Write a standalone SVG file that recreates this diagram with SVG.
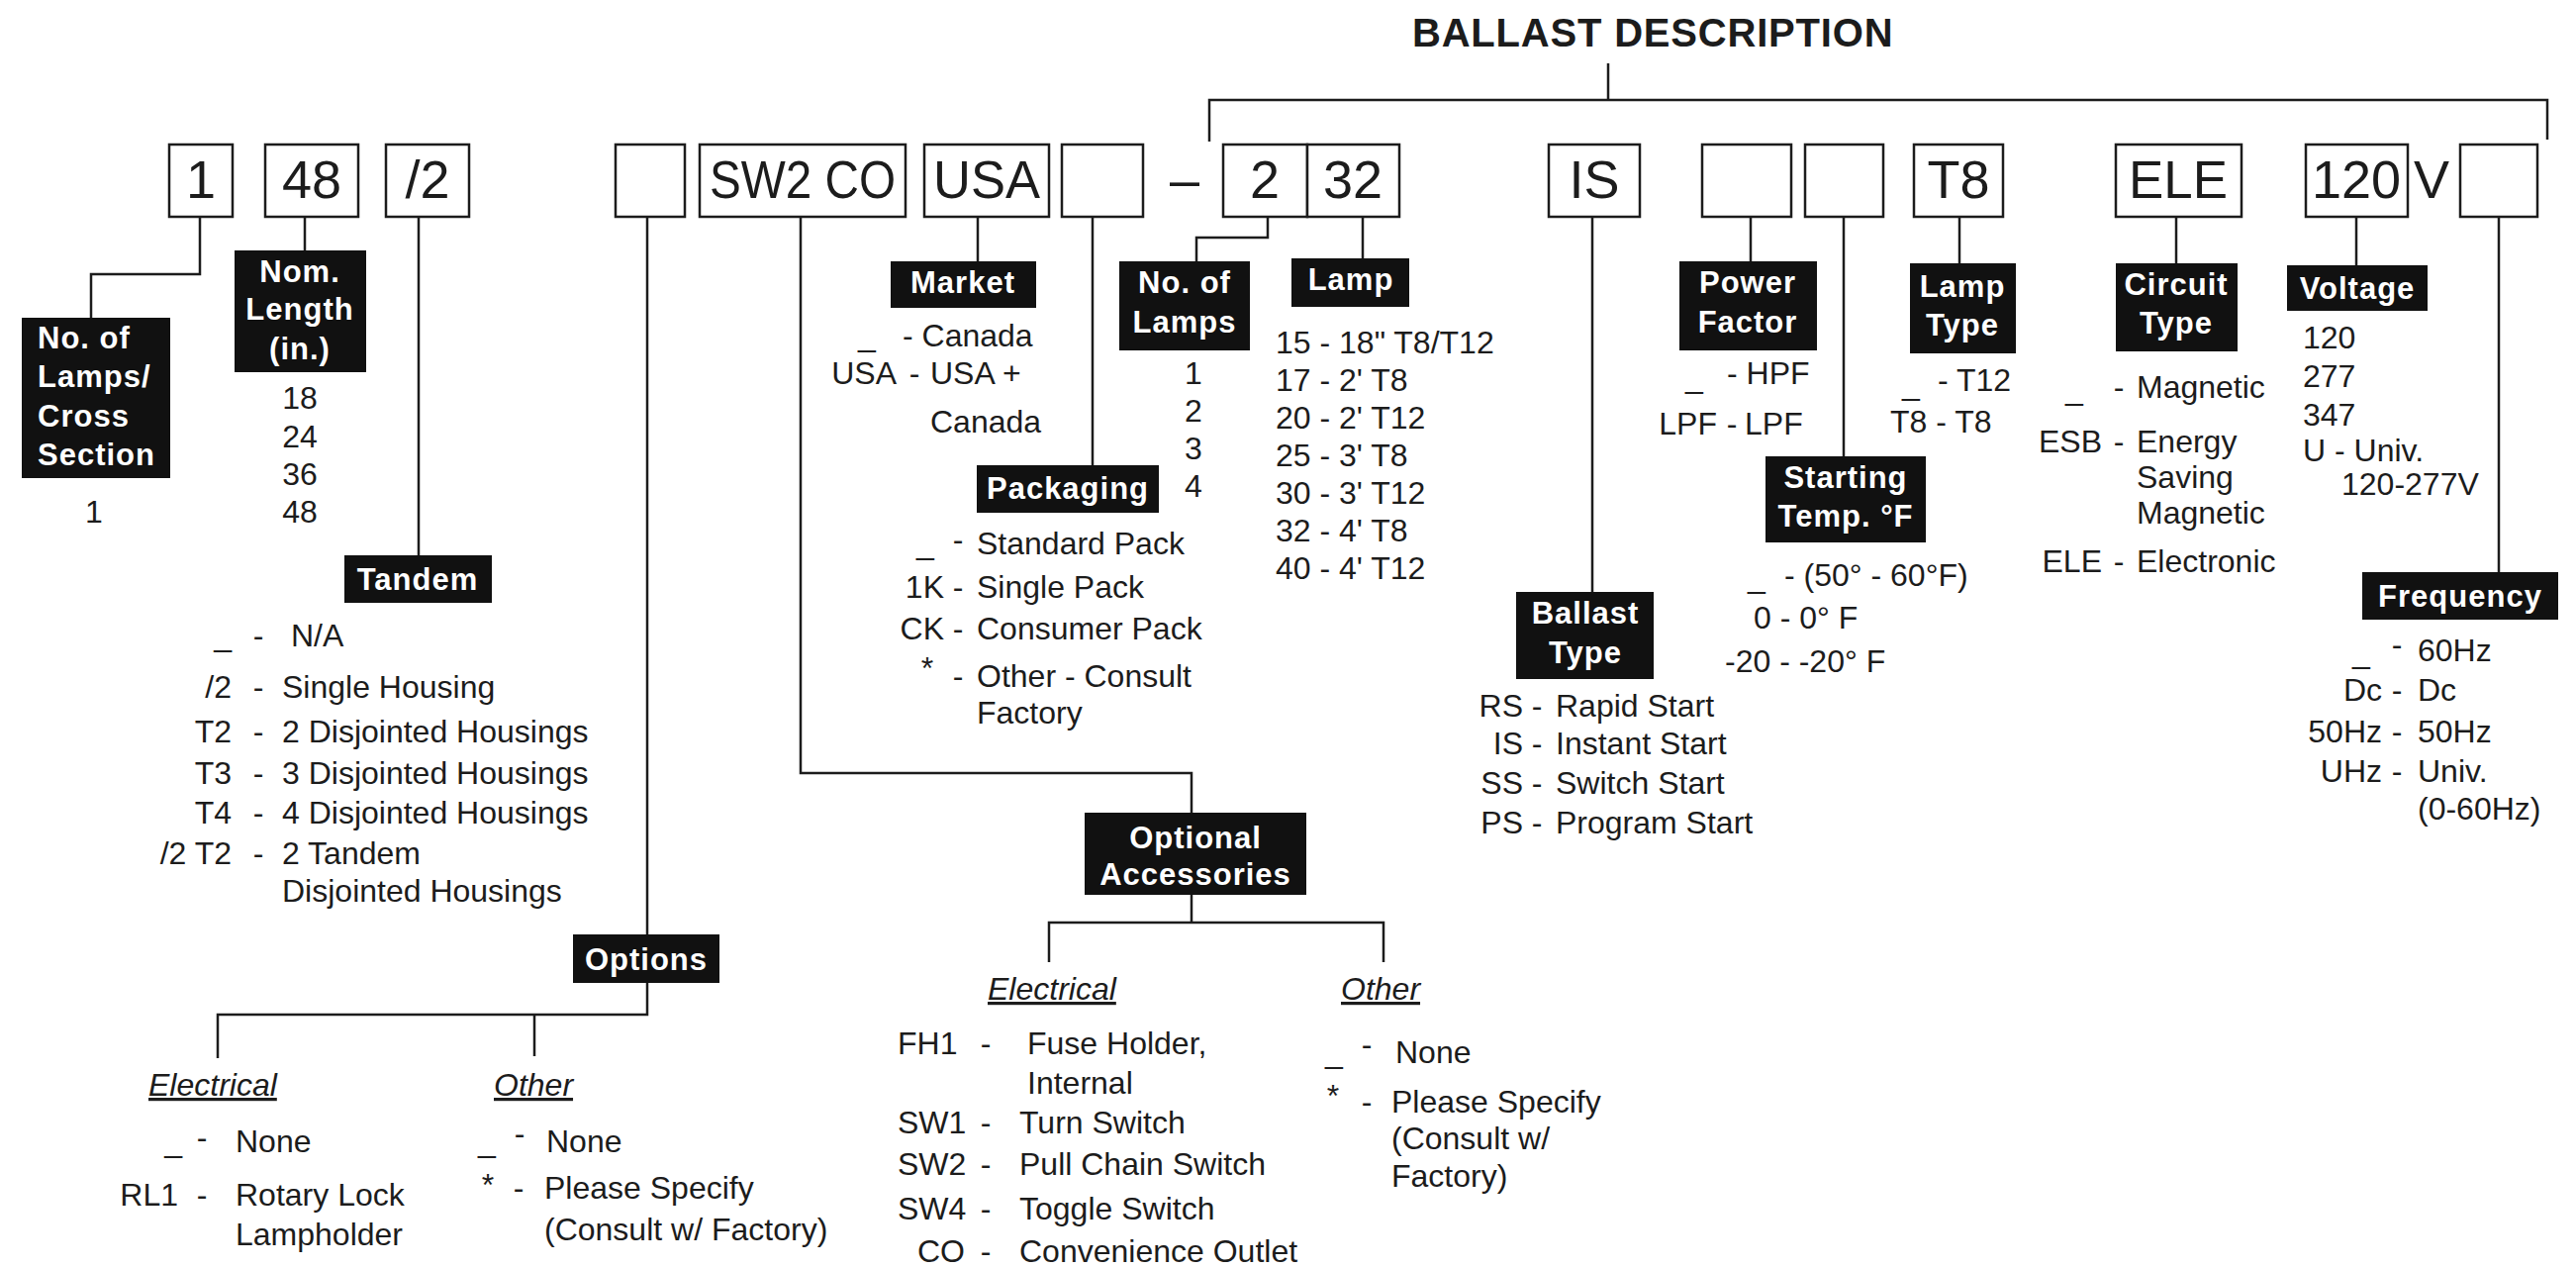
<svg xmlns="http://www.w3.org/2000/svg" width="2603" height="1281" viewBox="0 0 2603 1281">
<style>
text{font-family:"Liberation Sans",Arial,sans-serif;fill:#1c1c1c}
.t{font-size:32px}
.e{text-anchor:end}
.m{text-anchor:middle}
.lb{font-size:31px;font-weight:bold;fill:#fff;text-anchor:middle;letter-spacing:1px}
.lbl{font-size:31px;font-weight:bold;fill:#fff;letter-spacing:1px}
.bx{font-size:54px;text-anchor:middle}
.h{font-size:32px;font-style:italic;text-decoration:underline}
.title{font-size:40px;font-weight:bold;letter-spacing:0.8px}
.box{fill:#fff;stroke:#1c1c1c;stroke-width:2.5}
.lab{fill:#111}
.c{fill:none;stroke:#1c1c1c;stroke-width:2.5}
</style>
<rect width="2603" height="1281" fill="#fff"/>

<text class="title" x="1427" y="47">BALLAST DESCRIPTION</text>

<g id="connectors">
<path class="c" d="M1625,64 V101"/>
<path class="c" d="M1222,143 V101 H2574 V141"/>
<path class="c" d="M202,219 V277 H92 V321"/>
<path class="c" d="M308,219 V253"/>
<path class="c" d="M423,219 V561"/>
<path class="c" d="M654,219 V944"/>
<path class="c" d="M809,219 V781 H1204 V821"/>
<path class="c" d="M988,219 V264"/>
<path class="c" d="M1104,219 V470"/>
<path class="c" d="M1281,219 V240 H1209 V264"/>
<path class="c" d="M1377,219 V261"/>
<path class="c" d="M1609,219 V598"/>
<path class="c" d="M1769,219 V264"/>
<path class="c" d="M1863,219 V461"/>
<path class="c" d="M1980,219 V266"/>
<path class="c" d="M2199,219 V266"/>
<path class="c" d="M2381,219 V268"/>
<path class="c" d="M2525,219 V578"/>
<path class="c" d="M654,993 V1025 H220 V1069 M540,1025 V1067"/>
<path class="c" d="M1204,904 V932 M1060,972 V932 H1398 V972"/>
</g>

<g id="code-boxes">
<g id="box-1"><rect class="box" x="171" y="146" width="64" height="73"/><text class="bx" x="203" y="200">1</text></g>
<g id="box-48"><rect class="box" x="268" y="146" width="94" height="73"/><text class="bx" x="315" y="200">48</text></g>
<g id="box-tandem"><rect class="box" x="390" y="146" width="84" height="73"/><text class="bx" x="432" y="200">/2</text></g>
<g id="box-options"><rect class="box" x="622" y="146" width="70" height="73"/></g>
<g id="box-sw2co"><rect class="box" x="707" y="146" width="208" height="73"/><text class="bx" x="811" y="200" textLength="188" lengthAdjust="spacingAndGlyphs">SW2 CO</text></g>
<g id="box-usa"><rect class="box" x="934" y="146" width="126" height="73"/><text class="bx" x="997" y="200" textLength="108" lengthAdjust="spacingAndGlyphs">USA</text></g>
<g id="box-packaging"><rect class="box" x="1073" y="146" width="82" height="73"/></g>
<text class="bx" x="1197" y="200">–</text>
<g id="box-2"><rect class="box" x="1236" y="146" width="85" height="73"/><text class="bx" x="1278" y="200">2</text></g>
<g id="box-32"><rect class="box" x="1321" y="146" width="93" height="73"/><text class="bx" x="1367" y="200">32</text></g>
<g id="box-is"><rect class="box" x="1565" y="146" width="92" height="73"/><text class="bx" x="1611" y="200">IS</text></g>
<g id="box-pf"><rect class="box" x="1720" y="146" width="90" height="73"/></g>
<g id="box-st"><rect class="box" x="1824" y="146" width="79" height="73"/></g>
<g id="box-t8"><rect class="box" x="1934" y="146" width="90" height="73"/><text class="bx" x="1979" y="200">T8</text></g>
<g id="box-ele"><rect class="box" x="2138" y="146" width="127" height="73"/><text class="bx" x="2201" y="200" textLength="100" lengthAdjust="spacingAndGlyphs">ELE</text></g>
<g id="box-120"><rect class="box" x="2330" y="146" width="103" height="73"/><text class="bx" x="2381" y="200">120</text><text class="bx" x="2457" y="200">V</text></g>
<g id="box-freq"><rect class="box" x="2486" y="146" width="78" height="73"/></g>
</g>

<g id="node-lamps-cross">
<rect class="lab" x="22" y="321" width="150" height="162"/>
<text class="lbl" x="38" y="352">No. of</text>
<text class="lbl" x="38" y="391">Lamps/</text>
<text class="lbl" x="38" y="431">Cross</text>
<text class="lbl" x="38" y="470">Section</text>
<text class="t m" x="95" y="528">1</text>
</g>

<g id="node-nom-length">
<rect class="lab" x="237" y="253" width="133" height="123"/>
<text class="lb" x="303" y="285">Nom.</text>
<text class="lb" x="303" y="323">Length</text>
<text class="lb" x="303" y="363">(in.)</text>
<text class="t m" x="303" y="413">18</text>
<text class="t m" x="303" y="452">24</text>
<text class="t m" x="303" y="490">36</text>
<text class="t m" x="303" y="528">48</text>
</g>

<g id="node-tandem">
<rect class="lab" x="348" y="561" width="149" height="48"/>
<text class="lb" x="422" y="596">Tandem</text>
<text class="t e" x="234" y="653">_</text><text class="t m" x="261" y="653">-</text><text class="t" x="294" y="653">N/A</text>
<text class="t e" x="234" y="705">/2</text><text class="t m" x="261" y="705">-</text><text class="t" x="285" y="705">Single Housing</text>
<text class="t e" x="234" y="750">T2</text><text class="t m" x="261" y="750">-</text><text class="t" x="285" y="750">2 Disjointed Housings</text>
<text class="t e" x="234" y="792">T3</text><text class="t m" x="261" y="792">-</text><text class="t" x="285" y="792">3 Disjointed Housings</text>
<text class="t e" x="234" y="832">T4</text><text class="t m" x="261" y="832">-</text><text class="t" x="285" y="832">4 Disjointed Housings</text>
<text class="t e" x="234" y="873">/2 T2</text><text class="t m" x="261" y="873">-</text><text class="t" x="285" y="873">2 Tandem</text>
<text class="t" x="285" y="911">Disjointed Housings</text>
</g>

<g id="node-options">
<rect class="lab" x="579" y="944" width="148" height="49"/>
<text class="lb" x="653" y="980">Options</text>
<text class="h" x="150" y="1107">Electrical</text>
<text class="h" x="499" y="1107">Other</text>
<text class="t e" x="184" y="1164">_</text><text class="t m" x="204" y="1160">-</text><text class="t" x="238" y="1164">None</text>
<text class="t e" x="180" y="1218">RL1</text><text class="t m" x="204" y="1218">-</text><text class="t" x="238" y="1218">Rotary Lock</text>
<text class="t" x="238" y="1258">Lampholder</text>
<text class="t m" x="492" y="1164">_</text><text class="t m" x="525" y="1156">-</text><text class="t" x="552" y="1164">None</text>
<text class="t m" x="493" y="1208">*</text><text class="t m" x="524" y="1211">-</text><text class="t" x="550" y="1211">Please Specify</text>
<text class="t" x="550" y="1253">(Consult w/ Factory)</text>
</g>

<g id="node-market">
<rect class="lab" x="900" y="264" width="147" height="47"/>
<text class="lb" x="973" y="296">Market</text>
<text class="t m" x="876" y="350">_</text><text class="t" x="912" y="350">- Canada</text>
<text class="t e" x="906" y="388">USA</text><text class="t m" x="924" y="388">-</text><text class="t" x="940" y="388">USA +</text>
<text class="t" x="940" y="437">Canada</text>
</g>

<g id="node-packaging">
<rect class="lab" x="987" y="470" width="184" height="48"/>
<text class="lb" x="1079" y="504">Packaging</text>
<text class="t m" x="935" y="560">_</text><text class="t m" x="968" y="556">-</text><text class="t" x="987" y="560">Standard Pack</text>
<text class="t e" x="954" y="604">1K</text><text class="t m" x="968" y="604">-</text><text class="t" x="987" y="604">Single Pack</text>
<text class="t e" x="954" y="646">CK</text><text class="t m" x="968" y="646">-</text><text class="t" x="987" y="646">Consumer Pack</text>
<text class="t m" x="937" y="686">*</text><text class="t m" x="968" y="694">-</text><text class="t" x="987" y="694">Other -  Consult</text>
<text class="t" x="987" y="731">Factory</text>
</g>

<g id="node-no-lamps">
<rect class="lab" x="1131" y="264" width="132" height="90"/>
<text class="lb" x="1197" y="296">No. of</text>
<text class="lb" x="1197" y="336">Lamps</text>
<text class="t m" x="1206" y="388">1</text>
<text class="t m" x="1206" y="426">2</text>
<text class="t m" x="1206" y="464">3</text>
<text class="t m" x="1206" y="502">4</text>
</g>

<g id="node-lamp">
<rect class="lab" x="1305" y="261" width="119" height="49"/>
<text class="lb" x="1365" y="293">Lamp</text>
<text class="t" x="1289" y="357">15 -  18" T8/T12</text>
<text class="t" x="1289" y="395">17 -  2' T8</text>
<text class="t" x="1289" y="433">20 -  2' T12</text>
<text class="t" x="1289" y="471">25 -  3' T8</text>
<text class="t" x="1289" y="509">30 -  3' T12</text>
<text class="t" x="1289" y="547">32 -  4' T8</text>
<text class="t" x="1289" y="585">40 -  4' T12</text>
</g>

<g id="node-optional-accessories">
<rect class="lab" x="1096" y="821" width="224" height="83"/>
<text class="lb" x="1208" y="857">Optional</text>
<text class="lb" x="1208" y="894">Accessories</text>
<text class="h" x="998" y="1010">Electrical</text>
<text class="h" x="1355" y="1010">Other</text>
<text class="t" x="907" y="1065">FH1</text><text class="t m" x="996" y="1065">-</text><text class="t" x="1038" y="1065">Fuse Holder,</text>
<text class="t" x="1038" y="1105">Internal</text>
<text class="t" x="907" y="1145">SW1</text><text class="t m" x="996" y="1145">-</text><text class="t" x="1030" y="1145">Turn Switch</text>
<text class="t" x="907" y="1187">SW2</text><text class="t m" x="996" y="1187">-</text><text class="t" x="1030" y="1187">Pull Chain Switch</text>
<text class="t" x="907" y="1232">SW4</text><text class="t m" x="996" y="1232">-</text><text class="t" x="1030" y="1232">Toggle Switch</text>
<text class="t" x="927" y="1275">CO</text><text class="t m" x="996" y="1275">-</text><text class="t" x="1030" y="1275">Convenience Outlet</text>
<text class="t m" x="1348" y="1074">_</text><text class="t m" x="1381" y="1066">-</text><text class="t" x="1410" y="1074">None</text>
<text class="t m" x="1347" y="1118">*</text><text class="t m" x="1381" y="1124">-</text><text class="t" x="1406" y="1124">Please Specify</text>
<text class="t" x="1406" y="1161">(Consult w/</text>
<text class="t" x="1406" y="1199">Factory)</text>
</g>

<g id="node-ballast-type">
<rect class="lab" x="1532" y="598" width="139" height="88"/>
<text class="lb" x="1602" y="630">Ballast</text>
<text class="lb" x="1602" y="670">Type</text>
<text class="t e" x="1539" y="724">RS</text><text class="t m" x="1553" y="724">-</text><text class="t" x="1572" y="724">Rapid Start</text>
<text class="t e" x="1539" y="762">IS</text><text class="t m" x="1553" y="762">-</text><text class="t" x="1572" y="762">Instant Start</text>
<text class="t e" x="1539" y="802">SS</text><text class="t m" x="1553" y="802">-</text><text class="t" x="1572" y="802">Switch Start</text>
<text class="t e" x="1539" y="842">PS</text><text class="t m" x="1553" y="842">-</text><text class="t" x="1572" y="842">Program Start</text>
</g>

<g id="node-power-factor">
<rect class="lab" x="1697" y="264" width="139" height="90"/>
<text class="lb" x="1766" y="296">Power</text>
<text class="lb" x="1766" y="336">Factor</text>
<text class="t m" x="1712" y="392">_</text><text class="t" x="1745" y="388">- HPF</text>
<text class="t e" x="1735" y="439">LPF</text><text class="t m" x="1750" y="439">-</text><text class="t" x="1763" y="439">LPF</text>
</g>

<g id="node-starting-temp">
<rect class="lab" x="1784" y="461" width="162" height="87"/>
<text class="lb" x="1865" y="493">Starting</text>
<text class="lb" x="1865" y="532">Temp. °F</text>
<text class="t m" x="1775" y="594">_</text><text class="t" x="1803" y="592">- (50° - 60°F)</text>
<text class="t" x="1772" y="635">0 - 0° F</text>
<text class="t" x="1743" y="679">-20 - -20° F</text>
</g>

<g id="node-lamp-type">
<rect class="lab" x="1930" y="266" width="107" height="91"/>
<text class="lb" x="1983" y="300">Lamp</text>
<text class="lb" x="1983" y="339">Type</text>
<text class="t m" x="1931" y="399">_</text><text class="t" x="1958" y="395">- T12</text>
<text class="t" x="1910" y="437">T8 - T8</text>
</g>

<g id="node-circuit-type">
<rect class="lab" x="2138" y="266" width="123" height="89"/>
<text class="lb" x="2199" y="298">Circuit</text>
<text class="lb" x="2199" y="337">Type</text>
<text class="t m" x="2096" y="404">_</text><text class="t m" x="2141" y="402">-</text><text class="t" x="2159" y="402">Magnetic</text>
<text class="t e" x="2124" y="457">ESB</text><text class="t m" x="2141" y="457">-</text><text class="t" x="2159" y="457">Energy</text>
<text class="t" x="2159" y="493">Saving</text>
<text class="t" x="2159" y="529">Magnetic</text>
<text class="t e" x="2124" y="578">ELE</text><text class="t m" x="2141" y="578">-</text><text class="t" x="2159" y="578">Electronic</text>
</g>

<g id="node-voltage">
<rect class="lab" x="2311" y="268" width="142" height="46"/>
<text class="lb" x="2382" y="302">Voltage</text>
<text class="t" x="2327" y="352">120</text>
<text class="t" x="2327" y="391">277</text>
<text class="t" x="2327" y="430">347</text>
<text class="t" x="2327" y="466">U - Univ.</text>
<text class="t" x="2366" y="500">120-277V</text>
</g>

<g id="node-frequency">
<rect class="lab" x="2387" y="578" width="198" height="48"/>
<text class="lb" x="2486" y="613">Frequency</text>
<text class="t m" x="2386" y="670">_</text><text class="t m" x="2422" y="662">-</text><text class="t" x="2443" y="668">60Hz</text>
<text class="t e" x="2407" y="708">Dc</text><text class="t m" x="2422" y="708">-</text><text class="t" x="2443" y="708">Dc</text>
<text class="t e" x="2407" y="750">50Hz</text><text class="t m" x="2422" y="750">-</text><text class="t" x="2443" y="750">50Hz</text>
<text class="t e" x="2407" y="790">UHz</text><text class="t m" x="2422" y="790">-</text><text class="t" x="2443" y="790">Univ.</text>
<text class="t" x="2443" y="828">(0-60Hz)</text>
</g>
</svg>
